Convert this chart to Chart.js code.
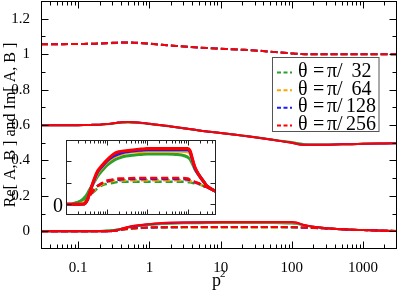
<!DOCTYPE html>
<html>
<head>
<meta charset="utf-8">
<script src="https://cdn.jsdelivr.net/npm/chart.js@4/dist/chart.umd.min.js"></script>
<style>
  html, body { margin: 0; padding: 0; background: #fff; }
  #wrap { position: relative; width: 399px; height: 291px; }
  #main { position: absolute; left: 0; top: 0; }
  #inset { position: absolute; left: 50px; top: 138px; }
</style>
</head>
<body>
<div id="wrap">
  <canvas id="main" width="399" height="291"></canvas>
  <canvas id="inset" width="170" height="80"></canvas>
</div>
<script>
// p^2 grid shared by every curve
const p2 = [0.03, 0.05, 0.08, 0.1, 0.13, 0.16, 0.2, 0.25, 0.3, 0.35, 0.4, 0.5, 0.6, 0.8, 1, 1.5, 2, 3, 5, 7,
            10, 20, 30, 50, 70, 100, 115, 130, 150, 200, 250, 300, 500, 700, 1000, 2000, 3000];

// upper dashed branch (~1.05)
const upperRed   = [1.056, 1.056, 1.057, 1.057, 1.058, 1.059, 1.060, 1.062, 1.064, 1.065, 1.066, 1.066, 1.065, 1.062, 1.059, 1.053, 1.049, 1.043, 1.037, 1.034,
                    1.031, 1.025, 1.021, 1.014, 1.009, 1.004, 1.002, 1.001, 1.000, 1.000, 1.000, 1.000, 1.000, 1.000, 1.000, 1.000, 1.000];
const upperGreen = [1.056, 1.056, 1.057, 1.057, 1.058, 1.059, 1.060, 1.061, 1.062, 1.063, 1.064, 1.064, 1.063, 1.061, 1.058, 1.053, 1.049, 1.043, 1.037, 1.034,
                    1.031, 1.025, 1.021, 1.014, 1.009, 1.004, 1.002, 1.001, 1.000, 1.000, 1.000, 1.000, 1.000, 1.000, 1.000, 1.000, 1.000];

// middle solid branch (~0.6)
const midRed   = [0.598, 0.598, 0.599, 0.599, 0.600, 0.601, 0.602, 0.605, 0.609, 0.613, 0.616, 0.617, 0.616, 0.612, 0.607, 0.598, 0.592, 0.582, 0.569, 0.562,
                  0.555, 0.540, 0.531, 0.518, 0.509, 0.500, 0.494, 0.490, 0.488, 0.488, 0.489, 0.489, 0.491, 0.492, 0.494, 0.496, 0.497];
const midGreen = [0.598, 0.598, 0.599, 0.599, 0.600, 0.601, 0.602, 0.604, 0.607, 0.611, 0.613, 0.614, 0.613, 0.610, 0.605, 0.597, 0.591, 0.581, 0.569, 0.562,
                  0.555, 0.541, 0.532, 0.520, 0.511, 0.504, 0.499, 0.495, 0.492, 0.490, 0.490, 0.490, 0.491, 0.492, 0.494, 0.496, 0.497];

// lower solid branch (~0.05)
const lowRed    = [0, 0, 0, 0, 0, 0, 0, 0, 0.001, 0.006, 0.013, 0.024, 0.031, 0.037, 0.041, 0.047, 0.049, 0.050, 0.051, 0.0515,
                   0.052, 0.052, 0.052, 0.052, 0.052, 0.052, 0.050, 0.043, 0.035, 0.026, 0.021, 0.017, 0.012, 0.009, 0.007, 0.003, 0.002];
const lowBlue   = [0, 0, 0, 0, 0, 0, 0, 0, 0.001, 0.006, 0.013, 0.023, 0.030, 0.036, 0.040, 0.045, 0.047, 0.049, 0.050, 0.0505,
                   0.051, 0.051, 0.051, 0.051, 0.051, 0.051, 0.049, 0.042, 0.034, 0.026, 0.021, 0.017, 0.012, 0.009, 0.007, 0.003, 0.002];
const lowOrange = [0, 0, 0, 0, 0, 0, 0, 0.001, 0.002, 0.006, 0.013, 0.022, 0.029, 0.035, 0.039, 0.044, 0.046, 0.048, 0.049, 0.049,
                   0.0495, 0.0495, 0.0495, 0.0495, 0.0495, 0.049, 0.047, 0.041, 0.034, 0.026, 0.021, 0.017, 0.012, 0.009, 0.007, 0.003, 0.002];
const lowGreen  = [0, 0, 0, 0, 0, 0.001, 0.002, 0.004, 0.007, 0.011, 0.015, 0.021, 0.026, 0.032, 0.036, 0.041, 0.043, 0.045, 0.046, 0.0465,
                   0.047, 0.047, 0.047, 0.0465, 0.046, 0.044, 0.042, 0.038, 0.033, 0.026, 0.021, 0.017, 0.012, 0.009, 0.007, 0.003, 0.002];

// lower dashed branch (~0.025)
const dashRed    = [0, 0, 0, 0, 0, 0, 0, 0, 0.001, 0.005, 0.009, 0.014, 0.017, 0.020, 0.022, 0.023, 0.024, 0.024, 0.0245, 0.0245,
                    0.0245, 0.0245, 0.0245, 0.0245, 0.0245, 0.0240, 0.0230, 0.022, 0.021, 0.019, 0.017, 0.016, 0.012, 0.009, 0.007, 0.003, 0.002];
const dashBlue   = [0, 0, 0, 0, 0, 0, 0, 0, 0.001, 0.005, 0.009, 0.014, 0.017, 0.020, 0.021, 0.023, 0.023, 0.0235, 0.0235, 0.0235,
                    0.0235, 0.0235, 0.0235, 0.0235, 0.0235, 0.0232, 0.0225, 0.0215, 0.0205, 0.019, 0.017, 0.016, 0.012, 0.009, 0.007, 0.003, 0.002];
const dashOrange = [0, 0, 0, 0, 0, 0, 0, 0.001, 0.002, 0.005, 0.009, 0.013, 0.016, 0.019, 0.020, 0.022, 0.022, 0.0225, 0.0225, 0.0225,
                    0.0225, 0.0225, 0.0225, 0.0225, 0.0225, 0.0222, 0.0218, 0.021, 0.020, 0.019, 0.017, 0.016, 0.012, 0.009, 0.007, 0.003, 0.002];
const dashGreen  = [0, 0, 0, 0, 0, 0.001, 0.002, 0.003, 0.005, 0.007, 0.009, 0.012, 0.015, 0.018, 0.019, 0.020, 0.021, 0.021, 0.021, 0.021,
                    0.021, 0.021, 0.021, 0.021, 0.021, 0.0208, 0.0205, 0.020, 0.0195, 0.0185, 0.017, 0.016, 0.012, 0.009, 0.007, 0.003, 0.002];

const thetaLabels = ['32', '64', '128', '256'];
const colors = ['#2ca02c', '#ffa500', '#1a1aff', '#ff0000'];

// axis ticks
const xTicks = [0.1, 1, 10, 100, 1000];
const xTickLabels = ['0.1', '1', '10', '100', '1000'];
const yTicks = [0, 0.2, 0.4, 0.6, 0.8, 1, 1.2];
const yTickLabels = ['0', '0.2', '0.4', '0.6', '0.8', '1', '1.2'];
const insetXTicks = [1, 10, 100];
const insetYTicks = [0, 0.02, 0.04];

const serif = "'Liberation Serif', 'Times New Roman', serif";
Chart.defaults.font.family = serif;
Chart.defaults.color = '#000';

const pts = arr => p2.map((x, i) => ({ x, y: arr[i] }));

function logMinor(min, max) {
    const out = [];
    for (let d = 0.01; d <= 1000; d *= 10) {
        for (let k = 2; k <= 9; k++) {
            const v = +(d * k).toPrecision(3);
            if (v > min && v < max) out.push(v);
        }
    }
    return out;
}

// frame with inward ticks on all four sides
const boxTicks = {
    id: 'boxTicks',
    afterDatasetsDraw(chart, args, o) {
        const { ctx, chartArea: a, scales: { x, y } } = chart;
        const L = Math.round(a.left) + 0.5, R = Math.round(a.right) - 0.5;
        const T = Math.round(a.top) + 0.5, B = Math.round(a.bottom) - 0.5;
        ctx.save();
        ctx.strokeStyle = o.color;
        ctx.lineWidth = 1;
        ctx.beginPath();
        const xt = (vals, len) => vals.forEach(v => {
            const px = Math.round(x.getPixelForValue(v)) + 0.5;
            ctx.moveTo(px, B); ctx.lineTo(px, B - len);
            ctx.moveTo(px, T); ctx.lineTo(px, T + len);
        });
        const yt = (vals, len) => vals.forEach(v => {
            const py = Math.round(y.getPixelForValue(v)) + 0.5;
            ctx.moveTo(L, py); ctx.lineTo(L + len, py);
            ctx.moveTo(R, py); ctx.lineTo(R - len, py);
        });
        xt(o.xMajor, o.major); xt(o.xMinor, o.minor);
        yt(o.yMajor, o.major); yt(o.yMinor, o.minor);
        ctx.stroke();
        ctx.strokeRect(L, T, R - L, B - T);
        if (o.zeroLabel) {
            ctx.fillStyle = '#000';
            ctx.font = '20px ' + serif;
            ctx.textAlign = 'right';
            ctx.textBaseline = 'alphabetic';
            ctx.fillText(o.zeroLabel, a.left - 3, y.getPixelForValue(0) + 8);
        }
        ctx.restore();
    }
};

const whiteArea = {
    id: 'whiteArea',
    beforeDatasetsDraw(chart) {
        const { ctx, chartArea: a } = chart;
        ctx.save();
        ctx.fillStyle = '#fff';
        ctx.fillRect(a.left, a.top, a.right - a.left, a.bottom - a.top);
        ctx.restore();
    }
};

// legend box, axis titles
const decorations = {
    id: 'decorations',
    afterDraw(chart) {
        const ctx = chart.ctx;
        ctx.save();
        // legend
        ctx.fillStyle = '#fff';
        ctx.fillRect(272.5, 57.5, 106.5, 74);
        ctx.strokeStyle = '#555';
        ctx.lineWidth = 1;
        ctx.strokeRect(272.5, 57.5, 106.5, 74);
        const base = [77, 94.7, 112.3, 130];
        ctx.font = '20px ' + serif;
        ctx.textBaseline = 'alphabetic';
        ctx.textAlign = 'left';
        base.forEach((by, i) => {
            const ly = by - 4.5;
            ctx.strokeStyle = colors[i];
            ctx.lineWidth = 2;
            ctx.setLineDash([4, 2.5]);
            ctx.beginPath();
            ctx.moveTo(277, ly); ctx.lineTo(292, ly);
            ctx.stroke();
            ctx.setLineDash([]);
            ctx.fillStyle = '#000';
            ctx.fillText('θ', 298, by);
            ctx.fillText('=', 313, by);
            ctx.fillText('π/', 327, by);
            ctx.fillText(thetaLabels[i], thetaLabels[i].length < 3 ? 351.5 : 346, by);
        });
        // y title
        ctx.save();
        ctx.translate(11, 125);
        ctx.rotate(-Math.PI / 2);
        ctx.textAlign = 'center';
        ctx.textBaseline = 'middle';
        ctx.font = '16px ' + serif;
        ctx.fillText('Re[ A, B ] and Im[ A, B ]', 0, 0);
        ctx.restore();
        // x title p^2
        ctx.textAlign = 'left';
        ctx.textBaseline = 'alphabetic';
        ctx.font = '18px ' + serif;
        ctx.fillText('p', 212, 286);
        ctx.font = '11px ' + serif;
        ctx.fillText('2', 220, 277);
        ctx.restore();
    }
};

function makeSets(lineWidth, dash, includeUpper) {
    const groups = [
        { arrs: [lowGreen, lowOrange, lowBlue, lowRed], dashed: false },
        { arrs: [dashGreen, dashOrange, dashBlue, dashRed], dashed: true }
    ];
    if (includeUpper) {
        groups.push({ arrs: [upperGreen, upperRed, upperRed, upperRed], dashed: true });
        groups.push({ arrs: [midGreen, midRed, midRed, midRed], dashed: false });
    }
    const sets = [];
    groups.forEach(g => g.arrs.forEach((arr, i) => {
        sets.push({
            data: pts(arr),
            borderColor: colors[i],
            borderWidth: g.dashed ? lineWidth.dash : lineWidth.solid,
            borderDash: g.dashed ? dash : [],
            pointRadius: 0,
            fill: false,
            cubicInterpolationMode: 'monotone',
            order: 3 - i
        });
    }));
    return sets;
}

new Chart(document.getElementById('main'), {
    type: 'line',
    data: { datasets: makeSets({ solid: 2, dash: 2 }, [7, 3], true) },
    options: {
        responsive: false,
        animation: false,
        devicePixelRatio: 1,
        layout: { padding: { top: 1, right: 2, left: 0, bottom: 0 } },
        plugins: {
            legend: { display: false }, tooltip: { enabled: false },
            boxTicks: {
                color: '#000', major: 7, minor: 4,
                xMajor: xTicks, xMinor: logMinor(0.03, 3000),
                yMajor: yTicks, yMinor: [0.1, 0.3, 0.5, 0.7, 0.9, 1.1]
            }
        },
        scales: {
            x: {
                type: 'logarithmic', min: 0.03, max: 3000,
                grid: { display: false }, border: { display: false },
                afterBuildTicks: s => { s.ticks = xTicks.map(v => ({ value: v })); },
                afterFit: s => { s.height = 42; s.paddingLeft = 0; s.paddingRight = 0; },
                ticks: {
                    autoSkip: false, maxRotation: 0, padding: 2,
                    font: { size: 15 },
                    callback: v => xTickLabels[xTicks.indexOf(v)]
                }
            },
            y: {
                type: 'linear', min: -0.1, max: 1.3,
                grid: { display: false }, border: { display: false },
                afterBuildTicks: s => { s.ticks = yTicks.map(v => ({ value: v })); },
                afterFit: s => { s.width = 41; s.paddingTop = 0; s.paddingBottom = 0; },
                ticks: {
                    autoSkip: false, padding: 3,
                    font: { size: 15 },
                    callback: v => yTickLabels[yTicks.indexOf(v)]
                }
            }
        }
    },
    plugins: [boxTicks, decorations]
});

new Chart(document.getElementById('inset'), {
    type: 'line',
    data: { datasets: makeSets({ solid: 3, dash: 2.5 }, [7, 4], false) },
    options: {
        responsive: false,
        animation: false,
        devicePixelRatio: 1,
        layout: { padding: { top: 2, right: 4, left: 0, bottom: 3 } },
        plugins: {
            legend: { display: false }, tooltip: { enabled: false },
            boxTicks: {
                color: '#222', major: 5, minor: 3,
                xMajor: insetXTicks, xMinor: logMinor(0.1, 500),
                yMajor: insetYTicks, yMinor: [], zeroLabel: '0'
            }
        },
        scales: {
            x: {
                type: 'logarithmic', min: 0.1, max: 500,
                grid: { display: false }, border: { display: false },
                ticks: { display: false },
                afterFit: s => { s.height = 0; s.paddingLeft = 0; s.paddingRight = 0; }
            },
            y: {
                type: 'linear', min: -0.01, max: 0.06,
                grid: { display: false }, border: { display: false },
                ticks: { display: false },
                afterFit: s => { s.width = 16; s.paddingTop = 0; s.paddingBottom = 0; }
            }
        }
    },
    plugins: [whiteArea, boxTicks]
});
</script>
</body>
</html>
